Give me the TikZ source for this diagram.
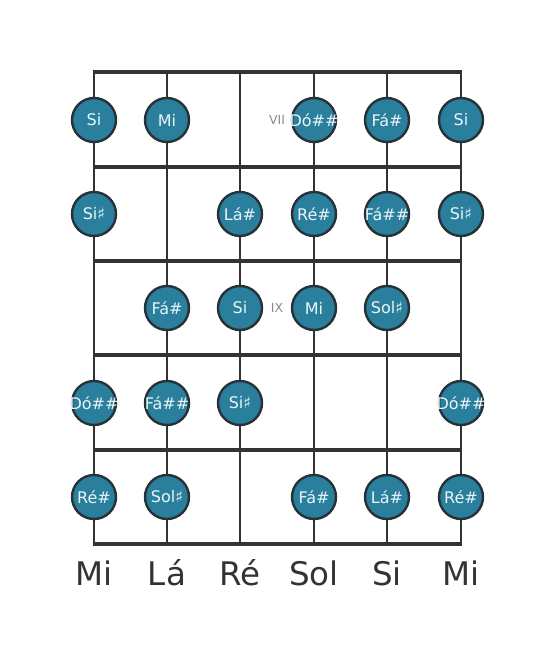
\documentclass[tikz,border=0pt]{standalone}
\usepackage{fontspec}
\setmainfont{DejaVu Sans}
\definecolor{ink}{HTML}{333333}
\definecolor{notefill}{HTML}{2A7F9C}
\definecolor{noteedge}{HTML}{263238}
\definecolor{notetext}{HTML}{EAF5F9}
\definecolor{fretnum}{HTML}{8A8A8A}
\newcommand\nz[1]{\makebox[0pt][c]{#1}}
\begin{document}
\begin{tikzpicture}[x=1pt,y=-1pt,
  stringline/.style={draw=ink,line width=2.7pt},
  fretline/.style={draw=ink,line width=4.5pt},
  note/.style={circle,draw=noteedge,line width=2.4pt,fill=notefill,minimum size=44pt,inner sep=0pt,text=notetext,font=\fontsize{16}{18}\selectfont},
  fretlabel/.style={text=fretnum,font=\fontsize{12.5}{14}\selectfont,inner sep=0pt},
  tuning/.style={text=ink,font=\fontsize{32.5}{36}\selectfont,inner sep=0pt}]
\useasboundingbox (0,0) rectangle (555,656);
% string end points
\foreach \i/\x in {1/94,2/167,3/240,4/314,5/387,6/461}{
  \coordinate (t\i) at (\x,72);
  \coordinate (b\i) at (\x,544);
}
\foreach \i in {1,...,6}{ \draw[stringline] (t\i) -- (b\i); }
% frets
\foreach \j/\y in {0/72,1/167,2/261,3/355,4/450,5/544}{
  \coordinate (fl\j) at (92.65,\y);
  \coordinate (fr\j) at (462.35,\y);
  \draw[fretline] (fl\j) -- (fr\j);
}
% fret numbers
\node[fretlabel] (vii) at (277,120) {VII};
\node[fretlabel] (ix) at (277,308) {IX};
% notes row 1
\node[note] (n11) at (94,120) {\nz{Si}};
\node[note] (n12) at (167,120) {\nz{Mi}};
\node[note] (n14) at (314,120) {\nz{Dó\#\#}};
\node[note] (n15) at (387,120) {\nz{Fá\#}};
\node[note] (n16) at (461,120) {\nz{Si}};
% row 2
\node[note] (n21) at (94,214) {\nz{Si♯}};
\node[note] (n23) at (240,214) {\nz{Lá\#}};
\node[note] (n24) at (314,214) {\nz{Ré\#}};
\node[note] (n25) at (387,214) {\nz{Fá\#\#}};
\node[note] (n26) at (461,214) {\nz{Si♯}};
% row 3
\node[note] (n32) at (167,308) {\nz{Fá\#}};
\node[note] (n33) at (240,308) {\nz{Si}};
\node[note] (n34) at (314,308) {\nz{Mi}};
\node[note] (n35) at (387,308) {\nz{Sol♯}};
% row 4
\node[note] (n41) at (94,403) {\nz{Dó\#\#}};
\node[note] (n42) at (167,403) {\nz{Fá\#\#}};
\node[note] (n43) at (240,403) {\nz{Si♯}};
\node[note] (n46) at (461,403) {\nz{Dó\#\#}};
% row 5
\node[note] (n51) at (94,497) {\nz{Ré\#}};
\node[note] (n52) at (167,497) {\nz{Sol♯}};
\node[note] (n54) at (314,497) {\nz{Fá\#}};
\node[note] (n55) at (387,497) {\nz{Lá\#}};
\node[note] (n56) at (461,497) {\nz{Ré\#}};
% tuning
\node[tuning] (s1) at (94,573) {Mi};
\node[tuning] (s2) at (167,573) {Lá};
\node[tuning] (s3) at (240,573) {Ré};
\node[tuning] (s4) at (314,573) {Sol};
\node[tuning] (s5) at (387,573) {Si};
\node[tuning] (s6) at (461,573) {Mi};
\end{tikzpicture}
\end{document}
